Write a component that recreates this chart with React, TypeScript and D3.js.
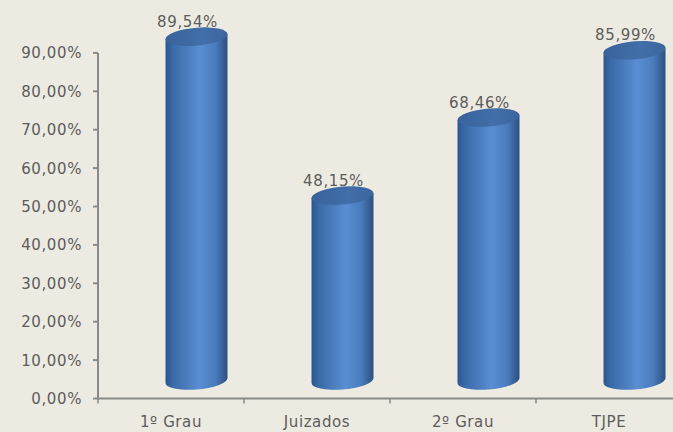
import React from "react";
import * as d3 from "d3";

const categories = ["1º Grau", "Juizados", "2º Grau", "TJPE"];
const values = [0.8954, 0.4815, 0.6846, 0.8599];
const valueLabels = ["89,54%", "48,15%", "68,46%", "85,99%"];
const yTicks = [0, 0.1, 0.2, 0.3, 0.4, 0.5, 0.6, 0.7, 0.8, 0.9];
const yTickLabels = ["0,00%", "10,00%", "20,00%", "30,00%", "40,00%", "50,00%", "60,00%", "70,00%", "80,00%", "90,00%"];

const W = 673;
const H = 432;
const FONT = "'DejaVu Sans', Verdana, sans-serif";
const TEXT = "#5c5c5c";
const AXIS = "#8a8a8a";

export default function App() {
  const y = d3.scaleLinear().domain([0, 0.9]).range([398.5, 52.9]);
  const x = d3.scaleBand<string>().domain(categories).range([98, 682]).padding(0);
  const dx = 25.5;
  const dy = -18;
  const rx = 31;
  const ry = 9;
  const boundaries = [...categories.map((c) => x(c) as number), 682];
  const txt = { fontFamily: FONT, fontSize: 15, fill: TEXT, letterSpacing: 0.6 };

  return (
    <svg width={W} height={H} style={{ position: "absolute", left: 0, top: 0, display: "block" }}>
      <defs>
        <linearGradient id="body" x1="0" x2="1" y1="0" y2="0">
          <stop offset="0" stopColor="#2b5790" />
          <stop offset="0.12" stopColor="#3a6aa8" />
          <stop offset="0.55" stopColor="#5a8ed2" />
          <stop offset="0.8" stopColor="#4a7cbd" />
          <stop offset="1" stopColor="#2c4f80" />
        </linearGradient>
        <linearGradient id="top" x1="0" x2="1" y1="0" y2="0">
          <stop offset="0" stopColor="#38629a" />
          <stop offset="0.6" stopColor="#426fa9" />
          <stop offset="1" stopColor="#3b659d" />
        </linearGradient>
      </defs>
      <rect x={0} y={0} width={W} height={H} fill="#edebe1" />

      {/* y axis */}
      <line x1={98} x2={98} y1={y(0.9)} y2={y(0) + 1} stroke={AXIS} strokeWidth={2} />
      {yTicks.map((t, i) => (
        <g key={i}>
          <line x1={93} x2={98} y1={y(t)} y2={y(t)} stroke={AXIS} strokeWidth={2} />
          <text x={82} y={y(t) + 5.5} textAnchor="end" {...txt}>
            {yTickLabels[i]}
          </text>
        </g>
      ))}

      {/* x axis */}
      <line x1={97} x2={W} y1={y(0)} y2={y(0)} stroke={AXIS} strokeWidth={2} />
      {boundaries.map((b, i) => (
        <line key={i} x1={b} x2={b} y1={y(0)} y2={y(0) + 5} stroke={AXIS} strokeWidth={1.5} />
      ))}
      {categories.map((c) => (
        <text key={c} x={(x(c) as number) + x.bandwidth() / 2} y={427} textAnchor="middle" {...txt}>
          {c}
        </text>
      ))}

      {/* cylinders */}
      {categories.map((c, i) => {
        const cx = (x(c) as number) + x.bandwidth() / 2 + dx;
        const yb = y(0) + dy;
        const yt = y(values[i]) + dy;
        const body = `M${cx - rx},${yt} L${cx - rx},${yb} A${rx},${ry} 0 0 0 ${cx + rx},${yb} L${cx + rx},${yt} Z`;
        return (
          <g key={c} transform={`translate(${cx},0) skewY(-4.5) translate(${-cx},0)`}>
            <path d={body} fill="url(#body)" />
            <ellipse cx={cx} cy={yt} rx={rx} ry={ry} fill="url(#top)" />
          </g>
        );
      })}

      {/* value labels */}
      {categories.map((c, i) => (
        <text key={c} x={(x(c) as number) + x.bandwidth() / 2 + 16.5} y={y(values[i]) - 28} textAnchor="middle" {...txt}>
          {valueLabels[i]}
        </text>
      ))}
    </svg>
  );
}
